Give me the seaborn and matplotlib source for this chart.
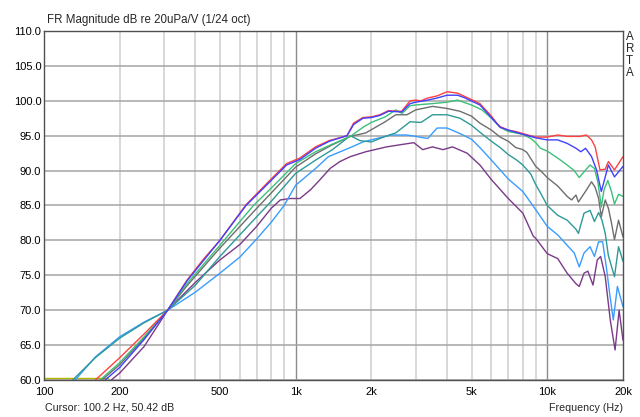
import matplotlib
matplotlib.use("Agg")
import matplotlib.pyplot as plt
import seaborn as sns
import pandas as pd
import numpy as np

# ---------------- data ----------------
red_f = [160, 200, 250, 310, 370, 430, 500, 635, 770, 920, 1040, 1200, 1360, 1600, 1700, 1850, 2000,
         2160, 2340, 2500, 2640, 2850, 3000, 3150, 3350, 3650, 4000, 4400, 4650, 5050, 5400, 6000,
         6300, 6500, 7000, 7500, 8000, 9000, 10000, 11000, 12000, 13500, 14300, 15000, 15500, 16200,
         17000, 17500, 18500, 20000]
red_db = [60, 63.2, 66.6, 70, 74.3, 77.3, 80, 85.1, 88.2, 91, 91.8, 93.4, 94.3, 95, 96.8, 97.6, 97.7,
          98, 98.6, 98.5, 98.5, 100, 100.1, 100, 100.4, 100.7, 101.3, 101.1, 100.7, 100.1, 99.6, 97.8,
          96.8, 96.3, 95.8, 95.6, 95.3, 94.8, 94.8, 95.1, 94.9, 94.9, 95.1, 94.4, 93.4, 90.1,
          90.2, 91.3, 90.1, 92]

blue_f = [175, 200, 250, 310, 370, 500, 635, 770, 920, 1040, 1200, 1360, 1600, 1700, 1850, 2000, 2160,
          2340, 2640, 2850, 3000, 3350, 3650, 4000, 4400, 4650, 5050, 5400, 6000, 6500, 7000, 8000,
          9000, 10000, 11000, 12000, 13000, 13600, 14200, 15000, 15700, 16400, 17000, 17500, 18500, 20000]
blue_db = [60, 61.8, 65.8, 70, 74.2, 80, 85, 88, 90.8, 91.6, 93.2, 94.2, 95, 96.6, 97.5, 97.6, 97.9,
           98.5, 98.4, 99.6, 99.8, 100.1, 100.4, 100.8, 100.8, 100.5, 99.9, 99.4, 97.6, 96.2, 95.8, 95.2,
           94.7, 94.4, 94.4, 93.9, 93.2, 92.7, 93.2, 92, 90.1, 87, 89.1, 90.8, 89.1, 90.6]

green_f = [167, 200, 250, 310, 370, 500, 680, 800, 1000, 1200, 1400, 1650, 1870, 2000, 2270, 2500, 2650,
           2850, 3000, 3500, 4000, 4400, 5000, 5500, 6000, 6500, 7000, 8000, 8600, 9000, 9400, 10000,
           11000, 12000, 12800, 13400, 14300, 14800, 15400, 15900, 16400, 16800, 17400, 18000, 18500,
           19200, 20000]
green_db = [60, 62.5, 66.2, 70, 73.8, 79.3, 85, 87.5, 91, 92.7, 93.8, 94.9, 96.3, 96.9, 97.7, 98.7, 98.2,
            99.3, 99.4, 99.6, 99.8, 100.1, 99.4, 98.7, 97.5, 96.2, 95.6, 95.2, 94.6, 94, 93.2, 92.8,
            91.8, 90.8, 90, 89, 90.2, 90.8, 90.3, 88.3, 84.8, 87.2, 88.6, 87, 85.2,
            86.6, 86.3]

gray_f = [170, 200, 250, 310, 370, 500, 680, 800, 1000, 1200, 1400, 1650, 1900, 2270, 2500, 2770, 3000,
          3500, 4000, 4500, 5000, 5400, 6000, 6500, 7000, 7500, 8000, 8300, 9000, 9400, 10000, 11000,
          12000, 12500, 13000, 13300, 14300, 15000, 15500, 16000, 16400, 17000, 17500, 18000, 18500,
          19200, 20000]
gray_db = [60, 62.2, 66, 70, 73.5, 78.9, 84.1, 86.8, 90.5, 92.4, 93.7, 94.9, 95.4, 97, 98, 98, 98.7,
           99.2, 98.9, 98.5, 97.8, 96.8, 95.8, 94.8, 94.2, 93.3, 93, 92.6, 90.6, 90, 89, 87.8,
           86.3, 85.8, 86.5, 85.5, 87.2, 88.4, 87.6, 86, 83.4, 85.8, 84.6, 82.5, 80.1,
           82.9, 80.5]

teal_f = [130, 160, 200, 250, 310, 400, 500, 680, 800, 1000, 1200, 1400, 1650, 1800, 2000, 2270, 2500,
          2850, 3150, 3500, 4000, 4500, 5000, 5400, 6000, 6500, 7000, 7500, 8000, 8600, 9000, 9400,
          10000, 11000, 12000, 13000, 13300, 14000, 14800, 15400, 16000, 16500, 17000, 17500, 18500,
          19200, 20000]
teal_db = [60, 63.2, 66, 68.2, 70, 73.6, 77.7, 82.9, 85.6, 89.6, 91.5, 93, 95, 94.3, 94.1, 94.9, 95.4,
           97, 96.9, 98, 98, 97.5, 96.5, 95.5, 94.2, 93.3, 92.3, 91.6, 90.8, 89.5, 88, 86.8,
           85, 83.6, 82.9, 81.6, 81, 83.9, 84.3, 82.7, 84, 82.9, 81, 77.8, 74.8,
           79.1, 77]

lblue_f = [133, 160, 200, 250, 310, 400, 500, 600, 700, 800, 900, 1000, 1200, 1350, 1650, 1850, 2100,
           2400, 2770, 3000, 3350, 3650, 4000, 4500, 5000, 5400, 6000, 7000, 8000, 9000, 10000, 11000,
           12000, 12800, 13400, 14000, 14800, 15400, 16000, 16600, 17200, 17700, 18300, 19000, 20000]
lblue_db = [60, 63.3, 66.2, 68.3, 70, 72.6, 75.3, 77.6, 80.2, 82.6, 85, 87.9, 90.3, 92, 93.3, 94.1, 94.6,
            95.1, 95.1, 94.9, 94.6, 96.1, 96.1, 95.3, 94.5, 93.3, 91.5, 88.8, 87, 84.4, 82, 80.8,
            79.3, 78.2, 76.2, 78.2, 79.1, 77.7, 79.8, 79.8, 76, 72.4, 68.6, 73.4, 70.5]

purple_f = [185, 200, 250, 310, 400, 500, 600, 700, 800, 870, 950, 1040, 1150, 1250, 1370, 1500, 1650,
            1900, 2300, 2600, 2950, 3200, 3500, 3850, 4200, 4800, 5400, 6000, 7000, 8000, 8800, 9000,
            10000, 11000, 12000, 13000, 13400, 14000, 14500, 15200, 15800, 16300, 17000, 17800, 18600,
            19300, 20000]
purple_db = [60, 61, 64.8, 70, 74, 77.2, 79.4, 82, 84.6, 85.8, 86, 86, 87.3, 88.7, 90.3, 91.3, 92,
             92.7, 93.4, 93.7, 94, 93, 93.4, 93, 93.4, 92.5, 90.8, 88.7, 86, 83.9, 80.6, 80.3,
             78.1, 77.4, 75.3, 73.8, 73.4, 75.3, 75.6, 73.6, 77.2, 77.7, 74.8, 68.6, 64.3,
             70, 65.7]

floor_f = [100, 180]
floor_db = [60.35, 60.35]

x_ticks = [100, 200, 500, 1000, 2000, 5000, 10000, 20000]
x_labels = ["100", "200", "500", "1k", "2k", "5k", "10k", "20k"]
y_ticks = list(range(60, 111, 5))

series = [
    ("floor", floor_f, floor_db, "#b4b400"),
    ("purple", purple_f, purple_db, "#7a3a88"),
    ("lblue", lblue_f, lblue_db, "#3a9cff"),
    ("teal", teal_f, teal_db, "#2e9a98"),
    ("gray", gray_f, gray_db, "#6e6e6e"),
    ("green", green_f, green_db, "#3cc07a"),
    ("red", red_f, red_db, "#ff4040"),
    ("blue", blue_f, blue_db, "#4040ff"),
]

rows = []
for name, f, d, _ in series:
    for fi, di in zip(f, d):
        rows.append({"curve": name, "freq": fi, "dB": di})
df = pd.DataFrame(rows)
palette = {name: c for name, _, _, c in series}

# ---------------- figure ----------------
sns.set_style("white")
plt.rcParams["font.family"] = ["Liberation Sans", "DejaVu Sans"]

fig = plt.figure(figsize=(6.4, 4.17), dpi=100)
ax = fig.add_axes([44 / 640, 37 / 417, 579 / 640, 349 / 417])

# grid
minor_lines = [m * 10 ** e for e in (2, 3) for m in range(2, 10)]
for v in minor_lines:
    ax.axvline(v, color="#d6d6d6", lw=1.3, zorder=0)
ax.axvline(1000, color="#8c8c8c", lw=1.0, zorder=0)
ax.axvline(10000, color="#8c8c8c", lw=1.0, zorder=0)
for v in y_ticks:
    ax.axhline(v, color="#a4a4a4", lw=1.1, zorder=0)

sns.lineplot(data=df, x="freq", y="dB", hue="curve", palette=palette,
             hue_order=[s[0] for s in series], estimator=None, sort=False,
             legend=False, linewidth=1.0, ax=ax)

ax.set_xscale("log")
ax.set_xlim(100, 20000)
ax.set_ylim(60, 110)
ax.set_xticks(x_ticks)
ax.set_xticklabels(x_labels)
ax.xaxis.set_minor_locator(matplotlib.ticker.NullLocator())
ax.set_yticks(y_ticks)
ax.set_yticklabels([f"{v:.1f}" for v in y_ticks])
ax.tick_params(axis="both", length=0, labelsize=8, colors="#000000")
ax.tick_params(axis="y", pad=2)
ax.tick_params(axis="x", pad=5)
ax.set_xlabel("")
ax.set_ylabel("")
for s in ax.spines.values():
    s.set_visible(True)
    s.set_color("#505050")
    s.set_linewidth(1.0)

fig.text(47 / 640, 1 - 20 / 417, "FR Magnitude dB re 20uPa/V (1/24 oct)",
         fontsize=8.3, ha="left", va="center")
fig.text(45 / 640, 1 - 408 / 417, "Cursor: 100.2 Hz, 50.42 dB",
         fontsize=7.7, ha="left", va="center")
fig.text(623 / 640, 1 - 408 / 417, "Frequency (Hz)",
         fontsize=7.7, ha="right", va="center")
for i, ch in enumerate("ARTA"):
    fig.text(626 / 640, 1 - (37 + 12 * i) / 417, ch, fontsize=8.3,
             ha="left", va="center")

fig.savefig("out.png", dpi=100, facecolor="white")
